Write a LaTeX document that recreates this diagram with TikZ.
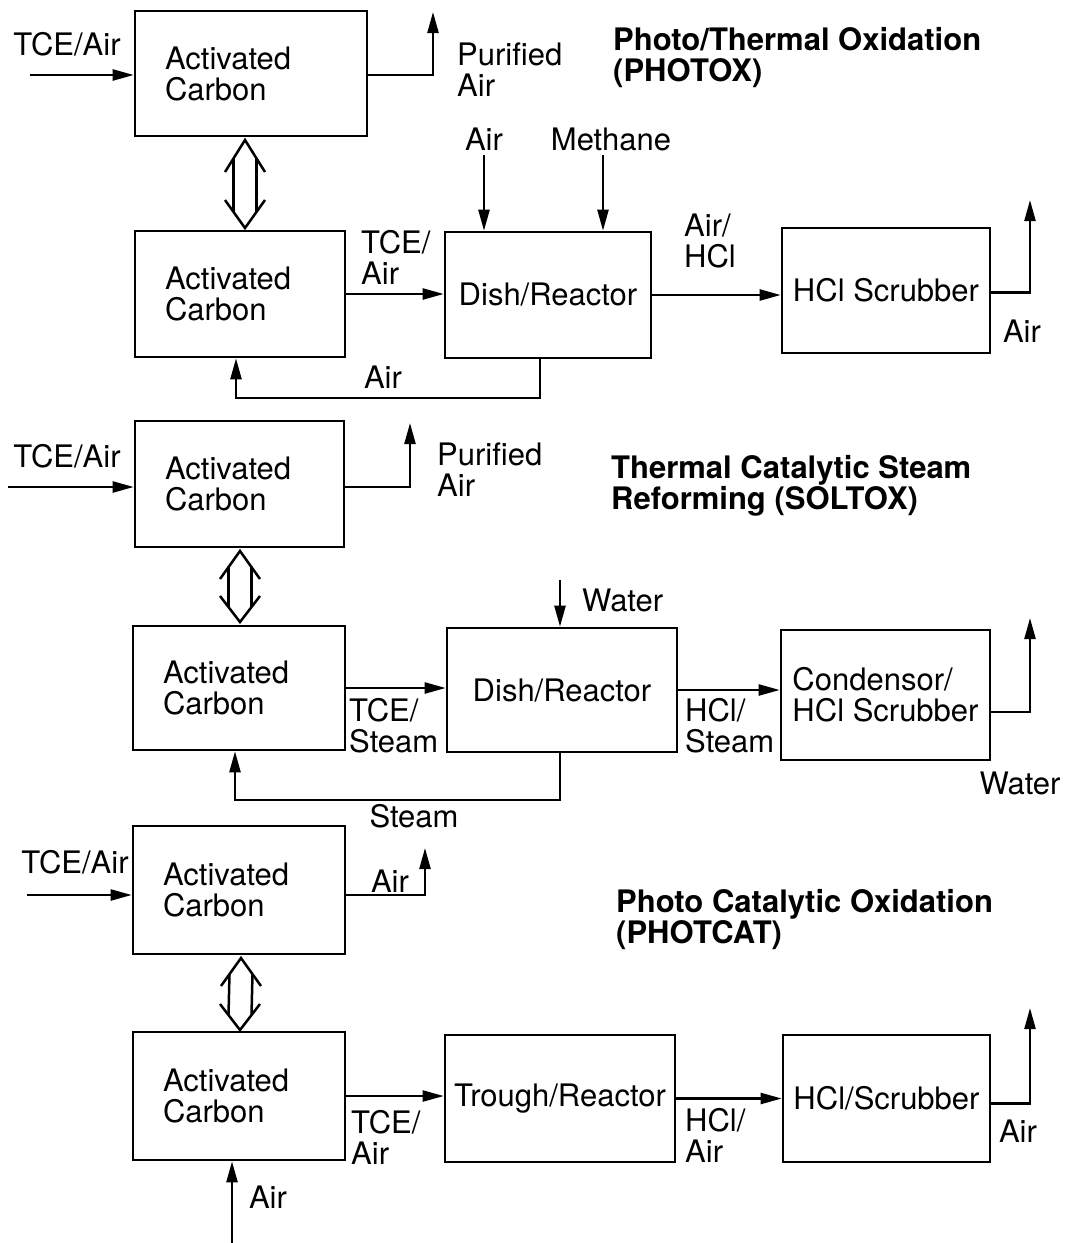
\documentclass[tikz,border=0pt]{standalone}
\usepackage{fontspec}
\setmainfont{TeX Gyre Heros}
\usetikzlibrary{arrows.meta,calc}
\begin{document}
\begin{tikzpicture}[x=1pt,y=-1pt,
  font=\fontsize{31}{31}\selectfont,
  box/.style={draw, line width=2.6pt, inner ysep=0pt},
  acbox/.style={box, align=left, inner xsep=30pt},
  lbl/.style={inner sep=0pt, align=left},
  ttl/.style={inner sep=0pt, align=left, font=\fontsize{31}{31}\selectfont\bfseries},
  arr/.style={line width=2.3pt, -{Triangle[length=21pt,width=11pt]}},
  dbl/.style={line width=2.5pt, line join=miter}]
\path[use as bounding box, fill=white] (0,0) rectangle (1068,1243);

% ---------- Section 1: PHOTOX ----------
\node[acbox, minimum width=232pt, minimum height=125pt, text width=172pt] (A1) at (251,73.5) {Activated\\Carbon};
\node[acbox, minimum width=210pt, minimum height=126pt, text width=150pt] (A2) at (240,294) {Activated\\Carbon};
\node[box, minimum width=206pt, minimum height=126pt] (D1) at (548,295) {Dish/Reactor};
\node[box, minimum width=208pt, minimum height=125pt] (S1) at (886,290.5) {HCl Scrubber};

\node[lbl] (t1a) at (67,44) {TCE/Air};
\node[lbl, anchor=west] (p1) at (457,70) {Purified\\Air};
\node[ttl, anchor=west] (T1) at (613,58) {Photo/Thermal Oxidation\\(PHOTOX)};
\node[lbl] (air1) at (484,139) {Air};
\node[lbl] (meth) at (611,139) {Methane};
\node[lbl, anchor=west] (tce1) at (361,257) {TCE/\\Air};
\node[lbl, anchor=west] (ah1) at (684,241) {Air/\\HCl};
\node[lbl] (air2) at (1022,331) {Air};
\node[lbl] (air3) at (383,377) {Air};

\coordinate (in1) at (30,75);
\coordinate (o1) at (433,12);
\coordinate (ai1) at (484,155);
\coordinate (mi1) at (603,155);
\coordinate (o2) at (1030,200);
\coordinate (r1) at (540,398);
\coordinate (r1b) at (236,398);

\draw[arr] (in1) -- (in1 -| A1.west);
\draw[arr] (A1.east |- in1) -- (in1 -| o1) -- (o1);
\draw[arr] (A2.east) -- (A2.east -| D1.west);
\draw[arr] (ai1) -- (ai1 |- D1.north);
\draw[arr] (mi1) -- (mi1 |- D1.north);
\draw[arr] (D1.east) -- (D1.east -| S1.west);
\draw[arr] ([yshift=-2pt]S1.east) -- ([yshift=-2pt]S1.east -| o2) -- (o2);
\draw[arr] (r1 |- D1.south) -- (r1) -- (r1b) -- (r1b |- A2.south);

% double arrow A1 <-> A2
\coordinate (dt1) at (245,140);
\coordinate (db1) at (245,228);
\draw[dbl] ($(dt1)+(-20,32)$) -- (dt1) -- ($(dt1)+(20,32)$);
\draw[dbl] ($(db1)+(-20,-28)$) -- (db1) -- ($(db1)+(20,-28)$);
\draw[dbl] ($(dt1)+(-11.5,18)$) -- ($(db1)+(-11.5,-16)$);
\draw[dbl] ($(dt1)+(11.5,18)$) -- ($(db1)+(11.5,-16)$);

% ---------- Section 2: SOLTOX ----------
\node[acbox, minimum width=209pt, minimum height=126pt, text width=149pt] (B1) at (239.5,484) {Activated\\Carbon};
\node[acbox, minimum width=212pt, minimum height=124pt, text width=152pt] (B2) at (239,688) {Activated\\Carbon};
\node[box, minimum width=230pt, minimum height=124pt] (D2) at (562,690) {Dish/Reactor};
\node[box, minimum width=209pt, minimum height=130pt, align=left, inner xsep=9pt] (C2) at (885.5,695) {Condensor/\\HCl Scrubber};

\node[lbl] (t2a) at (67,456) {TCE/Air};
\node[lbl, anchor=west] (p2) at (437,470) {Purified\\Air};
\node[ttl, anchor=west] (T2) at (611,486) {Thermal Catalytic Steam\\Reforming (SOLTOX)};
\node[lbl, anchor=west] (wat1) at (582,600) {Water};
\node[lbl, anchor=west] (tcs) at (349,726) {TCE/\\Steam};
\node[lbl, anchor=west] (hcs) at (685,726) {HCl/\\Steam};
\node[lbl] (wat2) at (1020,783) {Water};
\node[lbl] (stm) at (414,816) {Steam};

\coordinate (in2) at (8,487);
\coordinate (o3) at (410,423);
\coordinate (wi) at (560,580);
\coordinate (o4) at (1030,618);
\coordinate (r2) at (560,800);
\coordinate (r2b) at (235,800);

\draw[arr] (in2) -- (in2 -| B1.west);
\draw[arr] (B1.east |- in2) -- (in2 -| o3) -- (o3);
\draw[arr] (B2.east) -- (B2.east -| D2.west);
\draw[arr] (wi) -- (wi |- D2.north);
\draw[arr] (D2.east) -- (D2.east -| C2.west);
\draw[arr] ([yshift=-17pt]C2.east) -- ([yshift=-17pt]C2.east -| o4) -- (o4);
\draw[arr] (D2.south -| r2) -- (r2) -- (r2b) -- (r2b |- B2.south);

% double arrow B1 <-> B2
\coordinate (dt2) at (240,551);
\coordinate (db2) at (240,622);
\draw[dbl] ($(dt2)+(-20,28)$) -- (dt2) -- ($(dt2)+(20,28)$);
\draw[dbl] ($(db2)+(-20,-26)$) -- (db2) -- ($(db2)+(20,-26)$);
\draw[dbl] ($(dt2)+(-11.5,16)$) -- ($(db2)+(-11.5,-15)$);
\draw[dbl] ($(dt2)+(11.5,16)$) -- ($(db2)+(11.5,-15)$);

% ---------- Section 3: PHOTCAT ----------
\node[acbox, minimum width=212pt, minimum height=128pt, text width=152pt] (C1) at (239,890) {Activated\\Carbon};
\node[acbox, minimum width=212pt, minimum height=128pt, text width=152pt] (C3) at (239,1096) {Activated\\Carbon};
\node[box, minimum width=230pt, minimum height=127pt] (TR) at (560,1098.5) {Trough/Reactor};
\node[box, minimum width=207pt, minimum height=127pt] (S3) at (886.5,1098.5) {HCl/Scrubber};

\node[lbl] (t3a) at (75,862) {TCE/Air};
\node[lbl] (air4) at (390,881) {Air};
\node[ttl, anchor=west] (T3) at (616,920) {Photo Catalytic Oxidation\\(PHOTCAT)};
\node[lbl, anchor=west] (tca) at (351,1137) {TCE/\\Air};
\node[lbl, anchor=west] (hca) at (685,1135) {HCl/\\Air};
\node[lbl] (air5) at (1018,1131) {Air};
\node[lbl] (air6) at (268,1197) {Air};

\coordinate (in3) at (27,895);
\coordinate (o5) at (425,848);
\coordinate (o6) at (1030,1008);
\coordinate (in4) at (232,1243);

\draw[arr] (in3) -- (in3 -| C1.west);
\draw[arr] (in3 -| C1.east) -- (in3 -| o5) -- (o5);
\draw[arr] (C3.east) -- (C3.east -| TR.west);
\draw[arr] (TR.east) -- (TR.east -| S3.west);
\draw[arr] ([yshift=-5pt]S3.east) -- ([yshift=-5pt]S3.east -| o6) -- (o6);
\draw[arr] (in4) -- (in4 |- C3.south);

% double arrow C1 <-> C3
\coordinate (dt3) at (241,958);
\coordinate (db3) at (240,1030);
\draw[dbl] ($(dt3)+(-20,28)$) -- (dt3) -- ($(dt3)+(20,28)$);
\draw[dbl] ($(db3)+(-20,-26)$) -- (db3) -- ($(db3)+(20,-26)$);
\draw[dbl] ($(dt3)+(-11.5,16)$) -- ($(db3)+(-11.5,-15)$);
\draw[dbl] ($(dt3)+(11.5,16)$) -- ($(db3)+(11.5,-15)$);
\end{tikzpicture}
\end{document}
